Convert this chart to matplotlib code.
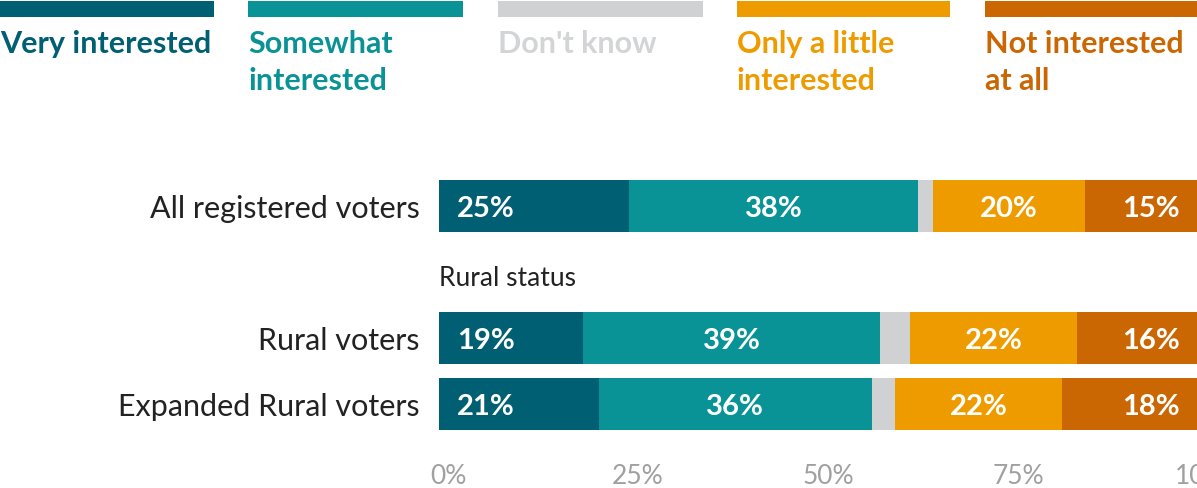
import matplotlib
matplotlib.use('Agg')
import matplotlib.pyplot as plt
import matplotlib.transforms as mtransforms

plt.rcParams['font.family'] = ['Lato', 'DejaVu Sans']

# Data
categories = ['All registered voters', 'Rural voters', 'Expanded Rural voters']
series_names = [['Very interested'], ['Somewhat', 'interested'], ["Don't know"],
                ['Only a little', 'interested'], ['Not interested', 'at all']]
very = [25, 19, 21]
somewhat = [38, 39, 36]
dont_know = [2, 4, 3]
little = [20, 22, 22]
not_at_all = [15, 16, 18]
tick_values = [0, 25, 50, 75, 100]
tick_labels = ['0%', '25%', '50%', '75%', '100%']

colors = ['#005f73', '#0a9396', '#d0d1d3', '#ee9b00', '#ca6702']
text_colors = ['#005f73', '#0a9396', '#d3d4d6', '#ee9b00', '#ca6702']

W, H = 1197, 489
fig = plt.figure(figsize=(W / 100, H / 100), dpi=100)

# main axes: x from px 439 to ~1199, y in pixel-like coords
ax = fig.add_axes([439 / W, 0, (1199 - 439) / W, 1])
ax.set_xlim(0, 100)
ax.set_ylim(H, 0)
row_y = [207, 339, 405]
bar_h = 52

all_series = [very, somewhat, dont_know, little, not_at_all]
for i, y in enumerate(row_y):
    left = 0
    for s, vals in enumerate(all_series):
        v = vals[i]
        ax.barh(y, v, left=left, height=bar_h, color=colors[s], linewidth=0)
        if s != 2:
            lbl = '{}%'.format(v)
            if s == 0:
                ax.annotate(lbl, (left, y + 2), xytext=(13, 0), textcoords='offset points',
                            ha='left', va='center', color='white', fontsize=21, fontweight='bold')
            elif s == 4:
                ax.annotate(lbl, (left + v, y + 2), xytext=(-13.5, 0), textcoords='offset points',
                            ha='right', va='center', color='white', fontsize=21, fontweight='bold')
            else:
                ax.text(left + v / 2, y + 2, lbl, ha='center', va='center', color='white',
                        fontsize=21, fontweight='bold')
        left += v
    ax.text(-2.5, y + 2, categories[i], ha='right', va='center', fontsize=22, color='#222222')

ax.text(0, 279, 'Rural status', ha='left', va='center', fontsize=19, color='#222222')

for t, lbl in zip(tick_values, tick_labels):
    ax.text(t, 477, lbl, ha='center', va='center', fontsize=19, color='#a0a0a0',
            transform=ax.transData + mtransforms.ScaledTranslation(9 / 100, 0, fig.dpi_scale_trans))

ax.axis('off')

# legend along the top
leg_x = [(0, 214), (248, 463), (498, 703), (737, 950), (985, 1197)]
baselines = [53, 90]
for (x0, x1), lines, c, tc in zip(leg_x, series_names, colors, text_colors):
    fig.patches.append(plt.Rectangle((x0 / W, 1 - 18 / H), (x1 - x0) / W, 16 / H,
                                     transform=fig.transFigure, color=c, linewidth=0))
    for line, b in zip(lines, baselines):
        fig.text(x0 / W, 1 - b / H, line, ha='left', va='baseline', fontsize=22,
                 fontweight='bold', color=tc)

fig.savefig('out.png', dpi=100)
